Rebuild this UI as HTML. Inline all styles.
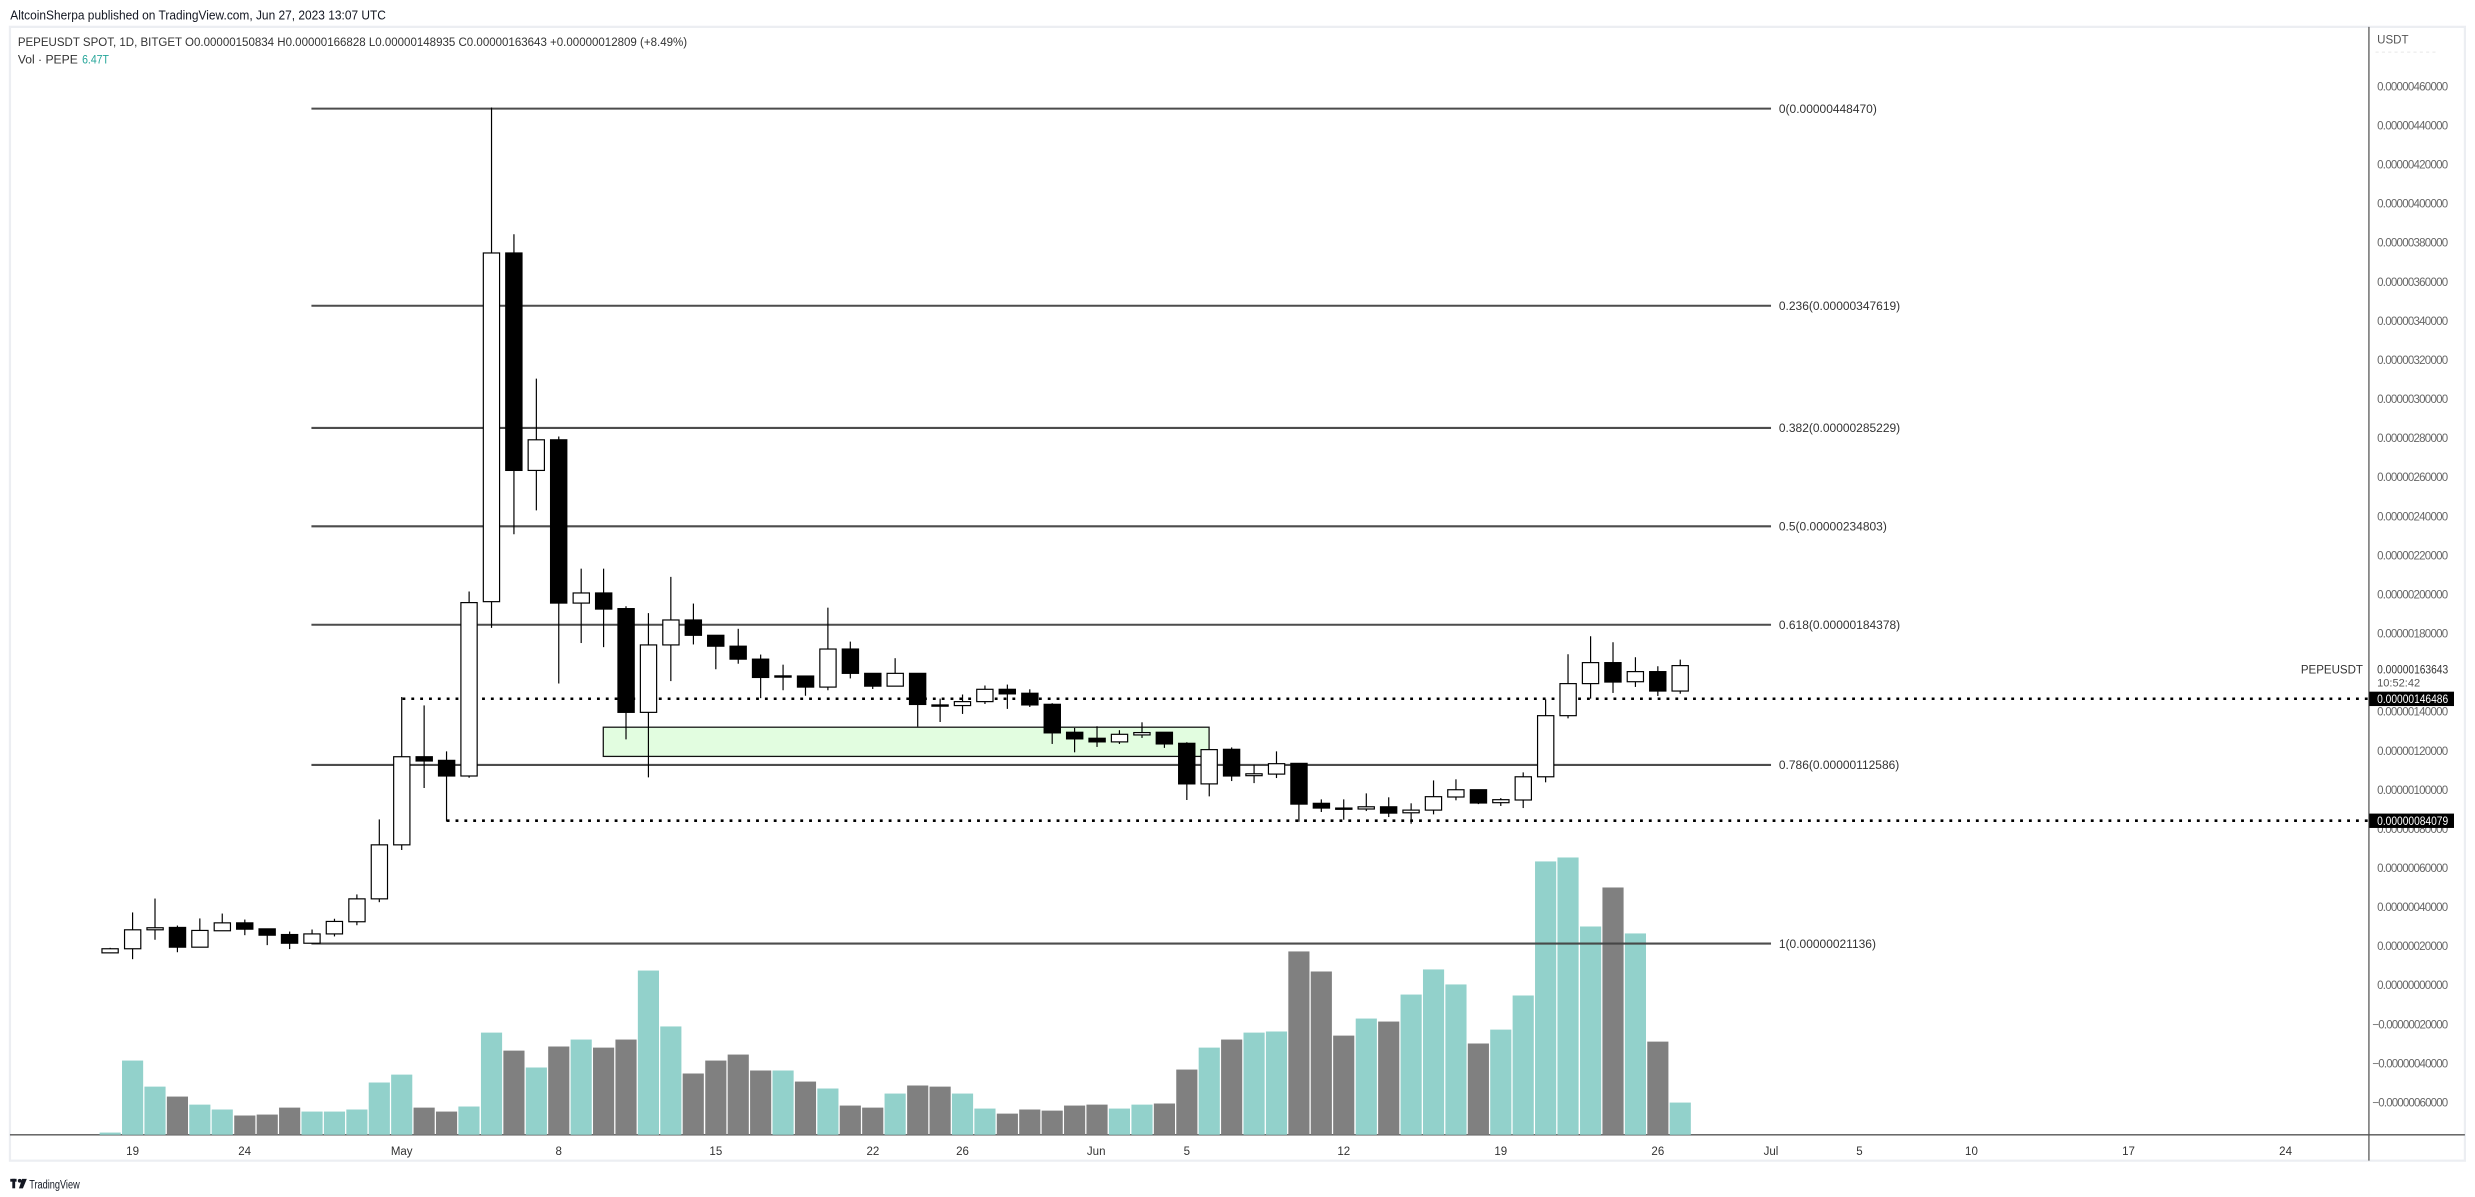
<!DOCTYPE html>
<html><head><meta charset="utf-8"><style>
html,body{margin:0;padding:0;background:#fff;}
svg{display:block;}
text{font-family:"Liberation Sans",sans-serif;}
</style></head><body>
<svg width="2475" height="1197" viewBox="0 0 1568 758" preserveAspectRatio="none" xmlns="http://www.w3.org/2000/svg">
<rect x="0" y="0" width="1568" height="758" fill="#fff"/>
<text x="6.5" y="12.3" font-size="8.3" fill="#131722" textLength="238" lengthAdjust="spacingAndGlyphs">AltcoinSherpa published on TradingView.com, Jun 27, 2023 13:07 UTC</text>
<rect x="6.3" y="17" width="1555.3" height="718" fill="none" stroke="#eceef2" stroke-width="1.4"/>
<text x="11.3" y="29" font-size="7.8" fill="#333" textLength="424" lengthAdjust="spacingAndGlyphs">PEPEUSDT SPOT, 1D, BITGET  O0.00000150834  H0.00000166828  L0.00000148935  C0.00000163643  +0.00000012809 (+8.49%)</text>
<text x="11.3" y="40.3" font-size="7.8" fill="#333" textLength="38" lengthAdjust="spacingAndGlyphs">Vol · PEPE</text>
<text x="52" y="40.3" font-size="7.8" fill="#26a69a" textLength="17" lengthAdjust="spacingAndGlyphs">6.47T</text>

<!-- axes -->
<line x1="1500.8" y1="17" x2="1500.8" y2="735" stroke="#555" stroke-width="0.8"/>
<line x1="6.3" y1="718.6" x2="1561.6" y2="718.6" stroke="#555" stroke-width="0.9"/>
<text x="1506" y="27.5" font-size="7.3" fill="#555">USDT</text>
<line x1="1505" y1="33" x2="1545" y2="33" stroke="#e8e8e8" stroke-width="0.6" stroke-dasharray="2 2"/>

<g font-size="7.3" fill="#666" lengthAdjust="spacingAndGlyphs">
<text x="1506" y="57.3" textLength="45">0.00000460000</text>
<text x="1506" y="82" textLength="45">0.00000440000</text>
<text x="1506" y="106.7" textLength="45">0.00000420000</text>
<text x="1506" y="131.5" textLength="45">0.00000400000</text>
<text x="1506" y="156.2" textLength="45">0.00000380000</text>
<text x="1506" y="181" textLength="45">0.00000360000</text>
<text x="1506" y="205.7" textLength="45">0.00000340000</text>
<text x="1506" y="230.5" textLength="45">0.00000320000</text>
<text x="1506" y="255.2" textLength="45">0.00000300000</text>
<text x="1506" y="280" textLength="45">0.00000280000</text>
<text x="1506" y="304.7" textLength="45">0.00000260000</text>
<text x="1506" y="329.5" textLength="45">0.00000240000</text>
<text x="1506" y="354.2" textLength="45">0.00000220000</text>
<text x="1506" y="379" textLength="45">0.00000200000</text>
<text x="1506" y="403.7" textLength="45">0.00000180000</text>
<text x="1506" y="453.2" textLength="45">0.00000140000</text>
<text x="1506" y="478" textLength="45">0.00000120000</text>
<text x="1506" y="502.7" textLength="45">0.00000100000</text>
<text x="1506" y="527.4" textLength="45">0.00000080000</text>
<text x="1506" y="552.2" textLength="45">0.00000060000</text>
<text x="1506" y="576.9" textLength="45">0.00000040000</text>
<text x="1506" y="601.7" textLength="45">0.00000020000</text>
<text x="1506" y="626.4" textLength="45">0.00000000000</text>
<text x="1503" y="651.2" textLength="48">−0.00000020000</text>
<text x="1503" y="675.9" textLength="48">−0.00000040000</text>
<text x="1503" y="700.7" textLength="48">−0.00000060000</text>
</g>
<text x="1497" y="426.5" font-size="7.3" fill="#333" text-anchor="end">PEPEUSDT</text>
<text x="1506" y="426.5" font-size="7.3" fill="#333" textLength="45" lengthAdjust="spacingAndGlyphs">0.00000163643</text>
<text x="1506" y="434.8" font-size="7" fill="#555">10:52:42</text>

<!-- time labels -->
<g font-size="7.3" fill="#333" text-anchor="middle">
<text x="84" y="731.5">19</text><text x="155" y="731.5">24</text><text x="254.5" y="731.5">May</text>
<text x="354" y="731.5">8</text><text x="453.5" y="731.5">15</text><text x="553" y="731.5">22</text>
<text x="609.8" y="731.5">26</text><text x="694.5" y="731.5">Jun</text><text x="751.9" y="731.5">5</text>
<text x="851.3" y="731.5">12</text><text x="950.8" y="731.5">19</text><text x="1050.3" y="731.5">26</text>
<text x="1122" y="731.5">Jul</text><text x="1178" y="731.5">5</text><text x="1249" y="731.5">10</text>
<text x="1348.5" y="731.5">17</text><text x="1448" y="731.5">24</text>
</g>

<!-- volume -->
<g fill="#92d1cb">
<rect x="63.1" y="717.2" width="13.4" height="1.4"/>
<rect x="77.3" y="671.6" width="13.4" height="47"/>
<rect x="91.5" y="688.1" width="13.4" height="30.5"/>
<rect x="119.9" y="699.5" width="13.4" height="19.1"/>
<rect x="134.1" y="702.6" width="13.4" height="16"/>
<rect x="191" y="703.9" width="13.4" height="14.7"/>
<rect x="205.2" y="703.9" width="13.4" height="14.7"/>
<rect x="219.4" y="702.6" width="13.4" height="16"/>
<rect x="233.6" y="685.5" width="13.4" height="33.1"/>
<rect x="247.8" y="680.5" width="13.4" height="38.1"/>
<rect x="290.4" y="700.7" width="13.4" height="17.9"/>
<rect x="304.7" y="653.9" width="13.4" height="64.7"/>
<rect x="333.1" y="676" width="13.4" height="42.6"/>
<rect x="361.5" y="658.3" width="13.4" height="60.3"/>
<rect x="404.1" y="614.6" width="13.4" height="104"/>
<rect x="418.3" y="650" width="13.4" height="68.6"/>
<rect x="489.4" y="677.9" width="13.4" height="40.7"/>
<rect x="517.8" y="689.3" width="13.4" height="29.3"/>
<rect x="560.4" y="692.5" width="13.4" height="26.1"/>
<rect x="603.1" y="692.5" width="13.4" height="26.1"/>
<rect x="617.3" y="702" width="13.4" height="16.6"/>
<rect x="702.5" y="702" width="13.4" height="16.6"/>
<rect x="716.8" y="699.5" width="13.4" height="19.1"/>
<rect x="759.4" y="663.4" width="13.4" height="55.2"/>
<rect x="787.8" y="653.9" width="13.4" height="64.7"/>
<rect x="802" y="653.2" width="13.4" height="65.4"/>
<rect x="858.9" y="645" width="13.4" height="73.6"/>
<rect x="887.3" y="629.8" width="13.4" height="88.8"/>
<rect x="901.5" y="613.9" width="13.4" height="104.7"/>
<rect x="915.7" y="623.4" width="13.4" height="95.2"/>
<rect x="944.1" y="652" width="13.4" height="66.6"/>
<rect x="958.3" y="630.4" width="13.4" height="88.2"/>
<rect x="972.5" y="545.5" width="13.4" height="173.1"/>
<rect x="986.7" y="543" width="13.4" height="175.6"/>
<rect x="1001" y="586.7" width="13.4" height="131.9"/>
<rect x="1029.4" y="591.1" width="13.4" height="127.5"/>
<rect x="1057.8" y="698.2" width="13.4" height="20.4"/>
</g>
<g fill="#808080">
<rect x="105.7" y="694.4" width="13.4" height="24.2"/>
<rect x="148.4" y="706.4" width="13.4" height="12.2"/>
<rect x="162.6" y="705.8" width="13.4" height="12.8"/>
<rect x="176.8" y="701.4" width="13.4" height="17.2"/>
<rect x="262" y="701.4" width="13.4" height="17.2"/>
<rect x="276.2" y="703.9" width="13.4" height="14.7"/>
<rect x="318.9" y="665.3" width="13.4" height="53.3"/>
<rect x="347.3" y="662.7" width="13.4" height="55.9"/>
<rect x="375.7" y="663.4" width="13.4" height="55.2"/>
<rect x="389.9" y="658.3" width="13.4" height="60.3"/>
<rect x="432.5" y="679.8" width="13.4" height="38.8"/>
<rect x="446.8" y="671.6" width="13.4" height="47"/>
<rect x="461" y="667.8" width="13.4" height="50.8"/>
<rect x="475.2" y="677.9" width="13.4" height="40.7"/>
<rect x="503.6" y="684.9" width="13.4" height="33.7"/>
<rect x="532" y="700.1" width="13.4" height="18.5"/>
<rect x="546.2" y="701.4" width="13.4" height="17.2"/>
<rect x="574.7" y="687.4" width="13.4" height="31.2"/>
<rect x="588.9" y="688.1" width="13.4" height="30.5"/>
<rect x="631.5" y="705.2" width="13.4" height="13.4"/>
<rect x="645.7" y="702.6" width="13.4" height="16"/>
<rect x="659.9" y="703.3" width="13.4" height="15.3"/>
<rect x="674.1" y="700.1" width="13.4" height="18.5"/>
<rect x="688.3" y="699.5" width="13.4" height="19.1"/>
<rect x="731" y="698.8" width="13.4" height="19.8"/>
<rect x="745.2" y="677.3" width="13.4" height="41.3"/>
<rect x="773.6" y="658.3" width="13.4" height="60.3"/>
<rect x="816.2" y="602.5" width="13.4" height="116.1"/>
<rect x="830.4" y="615.2" width="13.4" height="103.4"/>
<rect x="844.6" y="655.8" width="13.4" height="62.8"/>
<rect x="873.1" y="646.9" width="13.4" height="71.7"/>
<rect x="929.9" y="660.8" width="13.4" height="57.8"/>
<rect x="1015.2" y="562" width="13.4" height="156.6"/>
<rect x="1043.6" y="659.6" width="13.4" height="59"/>
</g>

<!-- fib lines -->
<g stroke="#434343" stroke-width="1.3" opacity="0.95">
<line x1="197.3" y1="68.8" x2="1122" y2="68.8"/>
<line x1="197.3" y1="193.6" x2="1122" y2="193.6"/>
<line x1="197.3" y1="271" x2="1122" y2="271"/>
<line x1="197.3" y1="333.3" x2="1122" y2="333.3"/>
<line x1="197.3" y1="395.6" x2="1122" y2="395.6"/>
<line x1="197.3" y1="484.4" x2="1122" y2="484.4"/>
<line x1="197.3" y1="597.5" x2="1122" y2="597.5"/>
</g>
<g font-size="7.6" fill="#333">
<text x="1127" y="71.5">0(0.00000448470)</text>
<text x="1127" y="196.3">0.236(0.00000347619)</text>
<text x="1127" y="273.7">0.382(0.00000285229)</text>
<text x="1127" y="336">0.5(0.00000234803)</text>
<text x="1127" y="398.3">0.618(0.00000184378)</text>
<text x="1127" y="487.1">0.786(0.00000112586)</text>
<text x="1127" y="600.2">1(0.00000021136)</text>
</g>

<!-- green box -->
<rect x="382.2" y="460.5" width="383.8" height="18.5" fill="#e2fde0" stroke="#111" stroke-width="0.8"/>

<!-- dotted lines -->
<g stroke="#000" stroke-width="1.6" stroke-dasharray="1.8 3.8">
<line x1="255" y1="442.5" x2="1501" y2="442.5"/>
<line x1="283" y1="519.7" x2="1501" y2="519.7"/>
</g>
<rect x="1501" y="438" width="53.7" height="9.1" fill="#000"/>
<text x="1506" y="445.3" font-size="7.3" fill="#fff" textLength="45" lengthAdjust="spacingAndGlyphs">0.00000146486</text>
<rect x="1501" y="515.2" width="53.7" height="9.1" fill="#000"/>
<text x="1506" y="522.5" font-size="7.3" fill="#fff" textLength="45" lengthAdjust="spacingAndGlyphs">0.00000084079</text>

<!-- candles: wicks -->
<g stroke="#000" stroke-width="0.75">
<line x1="69.8" y1="600.2" x2="69.8" y2="603.6"/>
<line x1="84" y1="577.8" x2="84" y2="607.4"/>
<line x1="98.2" y1="569" x2="98.2" y2="595.1"/>
<line x1="112.4" y1="586.1" x2="112.4" y2="603"/>
<line x1="126.6" y1="581.6" x2="126.6" y2="599.8"/>
<line x1="140.8" y1="578.5" x2="140.8" y2="589.4"/>
<line x1="155.1" y1="582.3" x2="155.1" y2="592.2"/>
<line x1="169.3" y1="588.2" x2="169.3" y2="598.5"/>
<line x1="183.5" y1="589.9" x2="183.5" y2="601"/>
<line x1="197.7" y1="588.6" x2="197.7" y2="597.3"/>
<line x1="211.9" y1="581.8" x2="211.9" y2="593"/>
<line x1="226.1" y1="566.4" x2="226.1" y2="585.9"/>
<line x1="240.3" y1="518.9" x2="240.3" y2="571.3"/>
<line x1="254.5" y1="441.4" x2="254.5" y2="538.3"/>
<line x1="268.7" y1="446.7" x2="268.7" y2="499"/>
<line x1="282.9" y1="475.8" x2="282.9" y2="520.2"/>
<line x1="297.2" y1="374.6" x2="297.2" y2="492.5"/>
<line x1="311.4" y1="68.1" x2="311.4" y2="397.6"/>
<line x1="325.6" y1="148.3" x2="325.6" y2="338.3"/>
<line x1="339.8" y1="239.8" x2="339.8" y2="323.2"/>
<line x1="354" y1="276.4" x2="354" y2="432.8"/>
<line x1="368.2" y1="360.1" x2="368.2" y2="407.2"/>
<line x1="382.4" y1="360.1" x2="382.4" y2="409.8"/>
<line x1="396.6" y1="383.9" x2="396.6" y2="468.2"/>
<line x1="410.8" y1="388.3" x2="410.8" y2="492.3"/>
<line x1="425" y1="365.3" x2="425" y2="431.3"/>
<line x1="439.3" y1="382.2" x2="439.3" y2="408.1"/>
<line x1="453.5" y1="402.3" x2="453.5" y2="423.8"/>
<line x1="467.7" y1="398.2" x2="467.7" y2="420.3"/>
<line x1="481.9" y1="414.5" x2="481.9" y2="442.1"/>
<line x1="496.1" y1="420.9" x2="496.1" y2="437.1"/>
<line x1="510.3" y1="428.1" x2="510.3" y2="440.6"/>
<line x1="524.5" y1="384.8" x2="524.5" y2="437.1"/>
<line x1="538.7" y1="406.3" x2="538.7" y2="429.6"/>
<line x1="552.9" y1="426.4" x2="552.9" y2="436.3"/>
<line x1="567.1" y1="416.8" x2="567.1" y2="434.5"/>
<line x1="581.4" y1="426.4" x2="581.4" y2="460.1"/>
<line x1="595.6" y1="442.4" x2="595.6" y2="457.2"/>
<line x1="609.8" y1="439.8" x2="609.8" y2="452.1"/>
<line x1="624" y1="434.1" x2="624" y2="445.8"/>
<line x1="638.2" y1="433.5" x2="638.2" y2="448.9"/>
<line x1="652.4" y1="436.5" x2="652.4" y2="447.7"/>
<line x1="666.6" y1="445.3" x2="666.6" y2="471.1"/>
<line x1="680.8" y1="461" x2="680.8" y2="476.4"/>
<line x1="695" y1="459.9" x2="695" y2="473"/>
<line x1="709.2" y1="462.4" x2="709.2" y2="471.1"/>
<line x1="723.5" y1="457.4" x2="723.5" y2="467.3"/>
<line x1="737.7" y1="463.7" x2="737.7" y2="473.6"/>
<line x1="751.9" y1="470" x2="751.9" y2="506.6"/>
<line x1="766.1" y1="474.7" x2="766.1" y2="504.3"/>
<line x1="780.3" y1="473.3" x2="780.3" y2="494.6"/>
<line x1="794.5" y1="484.3" x2="794.5" y2="495.9"/>
<line x1="808.7" y1="475.8" x2="808.7" y2="492.7"/>
<line x1="822.9" y1="483.4" x2="822.9" y2="520.4"/>
<line x1="837.1" y1="506.2" x2="837.1" y2="514.2"/>
<line x1="851.3" y1="506.2" x2="851.3" y2="519.1"/>
<line x1="865.6" y1="502.4" x2="865.6" y2="513.6"/>
<line x1="879.8" y1="504.9" x2="879.8" y2="517.4"/>
<line x1="894" y1="508.7" x2="894" y2="521.6"/>
<line x1="908.2" y1="494.2" x2="908.2" y2="515.7"/>
<line x1="922.4" y1="493.5" x2="922.4" y2="506.8"/>
<line x1="936.6" y1="500.1" x2="936.6" y2="509.2"/>
<line x1="950.8" y1="505.4" x2="950.8" y2="510.4"/>
<line x1="965" y1="489.1" x2="965" y2="511.7"/>
<line x1="979.2" y1="442.9" x2="979.2" y2="495.4"/>
<line x1="993.4" y1="414.3" x2="993.4" y2="454.9"/>
<line x1="1007.7" y1="402.9" x2="1007.7" y2="442.4"/>
<line x1="1021.9" y1="406.7" x2="1021.9" y2="438.8"/>
<line x1="1036.1" y1="416.2" x2="1036.1" y2="435"/>
<line x1="1050.3" y1="421.9" x2="1050.3" y2="440.7"/>
<line x1="1064.5" y1="417.7" x2="1064.5" y2="439.3"/>
</g>
<!-- hollow bodies -->
<g fill="#fff" stroke="#000" stroke-width="0.75">
<rect x="64.6" y="600.8" width="10.3" height="2.6"/>
<rect x="78.9" y="588.8" width="10.3" height="12"/>
<rect x="93.1" y="587.5" width="10.3" height="1.3"/>
<rect x="121.5" y="589.2" width="10.3" height="10.6"/>
<rect x="135.7" y="584.4" width="10.3" height="5"/>
<rect x="192.5" y="591.4" width="10.3" height="5.9"/>
<rect x="206.7" y="583.5" width="10.3" height="7.9"/>
<rect x="221" y="569.2" width="10.3" height="14.5"/>
<rect x="235.2" y="535" width="10.3" height="34.2"/>
<rect x="249.4" y="479.2" width="10.3" height="55.8"/>
<rect x="292" y="381.6" width="10.3" height="109.8"/>
<rect x="306.2" y="160.2" width="10.3" height="220.8"/>
<rect x="334.6" y="278.5" width="10.3" height="19.4"/>
<rect x="363.1" y="375.5" width="10.3" height="6.4"/>
<rect x="405.7" y="408.4" width="10.3" height="42.7"/>
<rect x="419.9" y="392.6" width="10.3" height="15.8"/>
<rect x="519.4" y="411" width="10.3" height="24.1"/>
<rect x="562" y="426.4" width="10.3" height="8.1"/>
<rect x="604.6" y="444.3" width="10.3" height="2.5"/>
<rect x="618.8" y="436.5" width="10.3" height="7.8"/>
<rect x="704.1" y="465" width="10.3" height="4.8"/>
<rect x="718.3" y="463.9" width="10.3" height="1.5"/>
<rect x="760.9" y="474.7" width="10.3" height="21.7"/>
<rect x="789.3" y="490" width="10.3" height="1.2"/>
<rect x="803.6" y="483.6" width="10.3" height="6.6"/>
<rect x="860.4" y="510.9" width="10.3" height="1.4"/>
<rect x="888.8" y="513" width="10.3" height="1.7"/>
<rect x="903" y="504.5" width="10.3" height="8.5"/>
<rect x="917.2" y="500.1" width="10.3" height="4.6"/>
<rect x="945.7" y="506.4" width="10.3" height="1.9"/>
<rect x="959.9" y="491.9" width="10.3" height="14.7"/>
<rect x="974.1" y="453.2" width="10.3" height="38.7"/>
<rect x="988.3" y="432.9" width="10.3" height="20.3"/>
<rect x="1002.5" y="419.6" width="10.3" height="13.3"/>
<rect x="1030.9" y="425.3" width="10.3" height="6.4"/>
<rect x="1059.3" y="421.5" width="10.3" height="16.1"/>
</g>
<!-- filled bodies -->
<g fill="#000" stroke="#000" stroke-width="0.75">
<rect x="107.3" y="587.3" width="10.3" height="12.5"/>
<rect x="149.9" y="584.4" width="10.3" height="4"/>
<rect x="164.1" y="588.2" width="10.3" height="4"/>
<rect x="178.3" y="591.8" width="10.3" height="5.5"/>
<rect x="263.6" y="479.2" width="10.3" height="2.7"/>
<rect x="277.8" y="481.5" width="10.3" height="9.9"/>
<rect x="320.4" y="160.2" width="10.3" height="137.7"/>
<rect x="348.8" y="278.5" width="10.3" height="103.4"/>
<rect x="377.3" y="375.5" width="10.3" height="10.2"/>
<rect x="391.5" y="385.4" width="10.3" height="65.7"/>
<rect x="434.1" y="392.6" width="10.3" height="9.7"/>
<rect x="448.3" y="402.3" width="10.3" height="6.9"/>
<rect x="462.5" y="409.2" width="10.3" height="8.2"/>
<rect x="476.7" y="417.4" width="10.3" height="11.6"/>
<rect x="490.9" y="428" width="10.3" height="0.8"/>
<rect x="505.2" y="428.1" width="10.3" height="7"/>
<rect x="533.6" y="411" width="10.3" height="15.4"/>
<rect x="547.8" y="426.4" width="10.3" height="8.1"/>
<rect x="576.2" y="426.4" width="10.3" height="19.7"/>
<rect x="590.4" y="446.4" width="10.3" height="0.8"/>
<rect x="633" y="436.5" width="10.3" height="2.9"/>
<rect x="647.3" y="439" width="10.3" height="7.4"/>
<rect x="661.5" y="446" width="10.3" height="18.1"/>
<rect x="675.7" y="463.7" width="10.3" height="4.2"/>
<rect x="689.9" y="467.5" width="10.3" height="2.3"/>
<rect x="732.5" y="463.7" width="10.3" height="7.4"/>
<rect x="746.7" y="470.7" width="10.3" height="25.7"/>
<rect x="775.1" y="474.5" width="10.3" height="16.9"/>
<rect x="817.8" y="483.4" width="10.3" height="25.8"/>
<rect x="832" y="508.7" width="10.3" height="3"/>
<rect x="846.2" y="511.7" width="10.3" height="0.8"/>
<rect x="874.6" y="510.9" width="10.3" height="4"/>
<rect x="931.5" y="500.1" width="10.3" height="8.4"/>
<rect x="1016.7" y="419.6" width="10.3" height="12.3"/>
<rect x="1045.1" y="425.3" width="10.3" height="12.3"/>
</g>

<!-- TradingView logo -->
<g transform="translate(6.5,746.5)">
<rect x="0" y="0" width="4" height="1.8" fill="#131722"/>
<rect x="1.3" y="0" width="1.8" height="6" fill="#131722"/>
<circle cx="6" cy="1.2" r="1.2" fill="#131722"/>
<path d="M7.5 0 L10.5 0 L8 6 L5.5 6 Z" fill="#131722"/>
</g>
<text x="18.5" y="752.5" font-size="7.6" fill="#131722" textLength="32" lengthAdjust="spacingAndGlyphs">TradingView</text>
</svg>
</body></html>
